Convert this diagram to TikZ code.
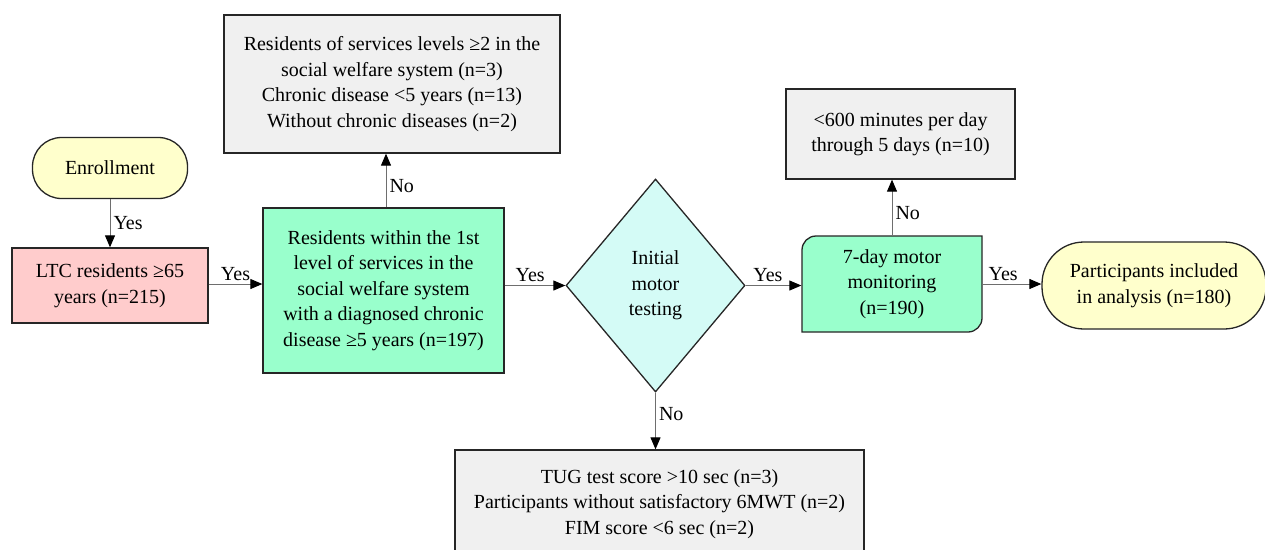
\documentclass[tikz,border=0pt]{standalone}
\usepackage{fontspec}
\setmainfont{Liberation Serif}
\usetikzlibrary{shapes.geometric,arrows.meta}
\definecolor{cyellow}{HTML}{FFFFCC}
\definecolor{cpink}{HTML}{FFCCCC}
\definecolor{cmint}{HTML}{99FFCC}
\definecolor{ccyan}{HTML}{D4FBF6}
\definecolor{cgray}{HTML}{F0F0F0}
\definecolor{cline}{HTML}{6E6E6E}
\definecolor{cborder}{HTML}{262626}
\begin{document}
\begin{tikzpicture}[x=1pt,y=-1pt,
  txt/.style={font=\fontsize{20}{25.5}\selectfont},
  box/.style={txt, draw=cborder, line width=1.3pt, align=center, inner sep=0pt},
  conn/.style={draw=cline, line width=1pt, -{Triangle[length=12pt,width=10pt,color=black]}},
  lab/.style={txt, inner sep=3pt, text=black}
]
\useasboundingbox (0,0) rectangle (1265,549);
\clip (0,0) rectangle (1265,549);
\fill[white] (0,0) rectangle (1265,549);

% nodes
\node[box, fill=cyellow, rounded corners=29pt, minimum width=155pt, minimum height=61pt] (enr) at (110,168) {Enrollment};
\node[box, fill=cpink, minimum width=196pt, minimum height=75pt] (ltc) at (110,285.5) {LTC residents ≥65\\years (n=215)};
\node[box, fill=cmint, minimum width=241pt, minimum height=165pt] (res) at (383.5,290.5) {Residents within the 1st\\level of services in the\\social welfare system\\with a diagnosed chronic\\disease ≥5 years (n=197)};
\node[box, fill=cgray, minimum width=336pt, minimum height=138pt] (exc1) at (392,84) {Residents of services levels ≥2 in the\\social welfare system (n=3)\\Chronic disease <5 years (n=13)\\Without chronic diseases (n=2)};
\node[box, shape=diamond, fill=ccyan, minimum width=179pt, minimum height=213pt] (dia) at (655.5,285.5) {Initial\\motor\\testing};
\node[box, fill=cgray, minimum width=409pt, minimum height=108pt] (exc2) at (659.5,504) {TUG test score >10 sec (n=3)\\Participants without satisfactory 6MWT (n=2)\\FIM score <6 sec (n=2)};
\fill[cmint, draw=cborder, line width=1.3pt] (802,332) -- (802,250) arc[start angle=180,end angle=270,radius=14] -- (982,236) -- (982,318) arc[start angle=0,end angle=90,radius=14] -- cycle;
\node[box, draw=none, minimum width=180pt, minimum height=96pt] (mon) at (892,284) {7-day motor\\monitoring\\(n=190)};
\node[box, fill=cgray, minimum width=229pt, minimum height=90pt] (exc3) at (900.5,134) {<600 minutes per day\\through 5 days (n=10)};
\node[box, fill=cyellow, rounded corners=42pt, minimum width=224pt, minimum height=87pt] (par) at (1154,285.5) {Participants included\\in analysis (n=180)};

% connectors
\draw[conn] (enr.south) -- node[lab, right, pos=0.5] {Yes} (ltc.north);
\draw[conn] (ltc.east |- 0,284) -- node[lab, above] {Yes} (res.west |- 0,284);
\draw[conn] (res.north -| 386,0) -- node[lab, right, pos=0.4] {No} (exc1.south -| 386,0);
\draw[conn] (dia.west -| res.east) -- node[lab, above, pos=0.42] {Yes} (dia.west);
\draw[conn] (dia.east) -- node[lab, above, pos=0.4] {Yes} (dia.east -| mon.west);
\draw[conn] (mon.north) -- node[lab, right, pos=0.4] {No} (mon.north |- exc3.south);
\draw[conn] (mon.east) -- node[lab, above, pos=0.35] {Yes} (mon.east -| par.west);
\draw[conn] (dia.south) -- node[lab, right, pos=0.38] {No} (dia.south |- exc2.north);
\end{tikzpicture}
\end{document}
